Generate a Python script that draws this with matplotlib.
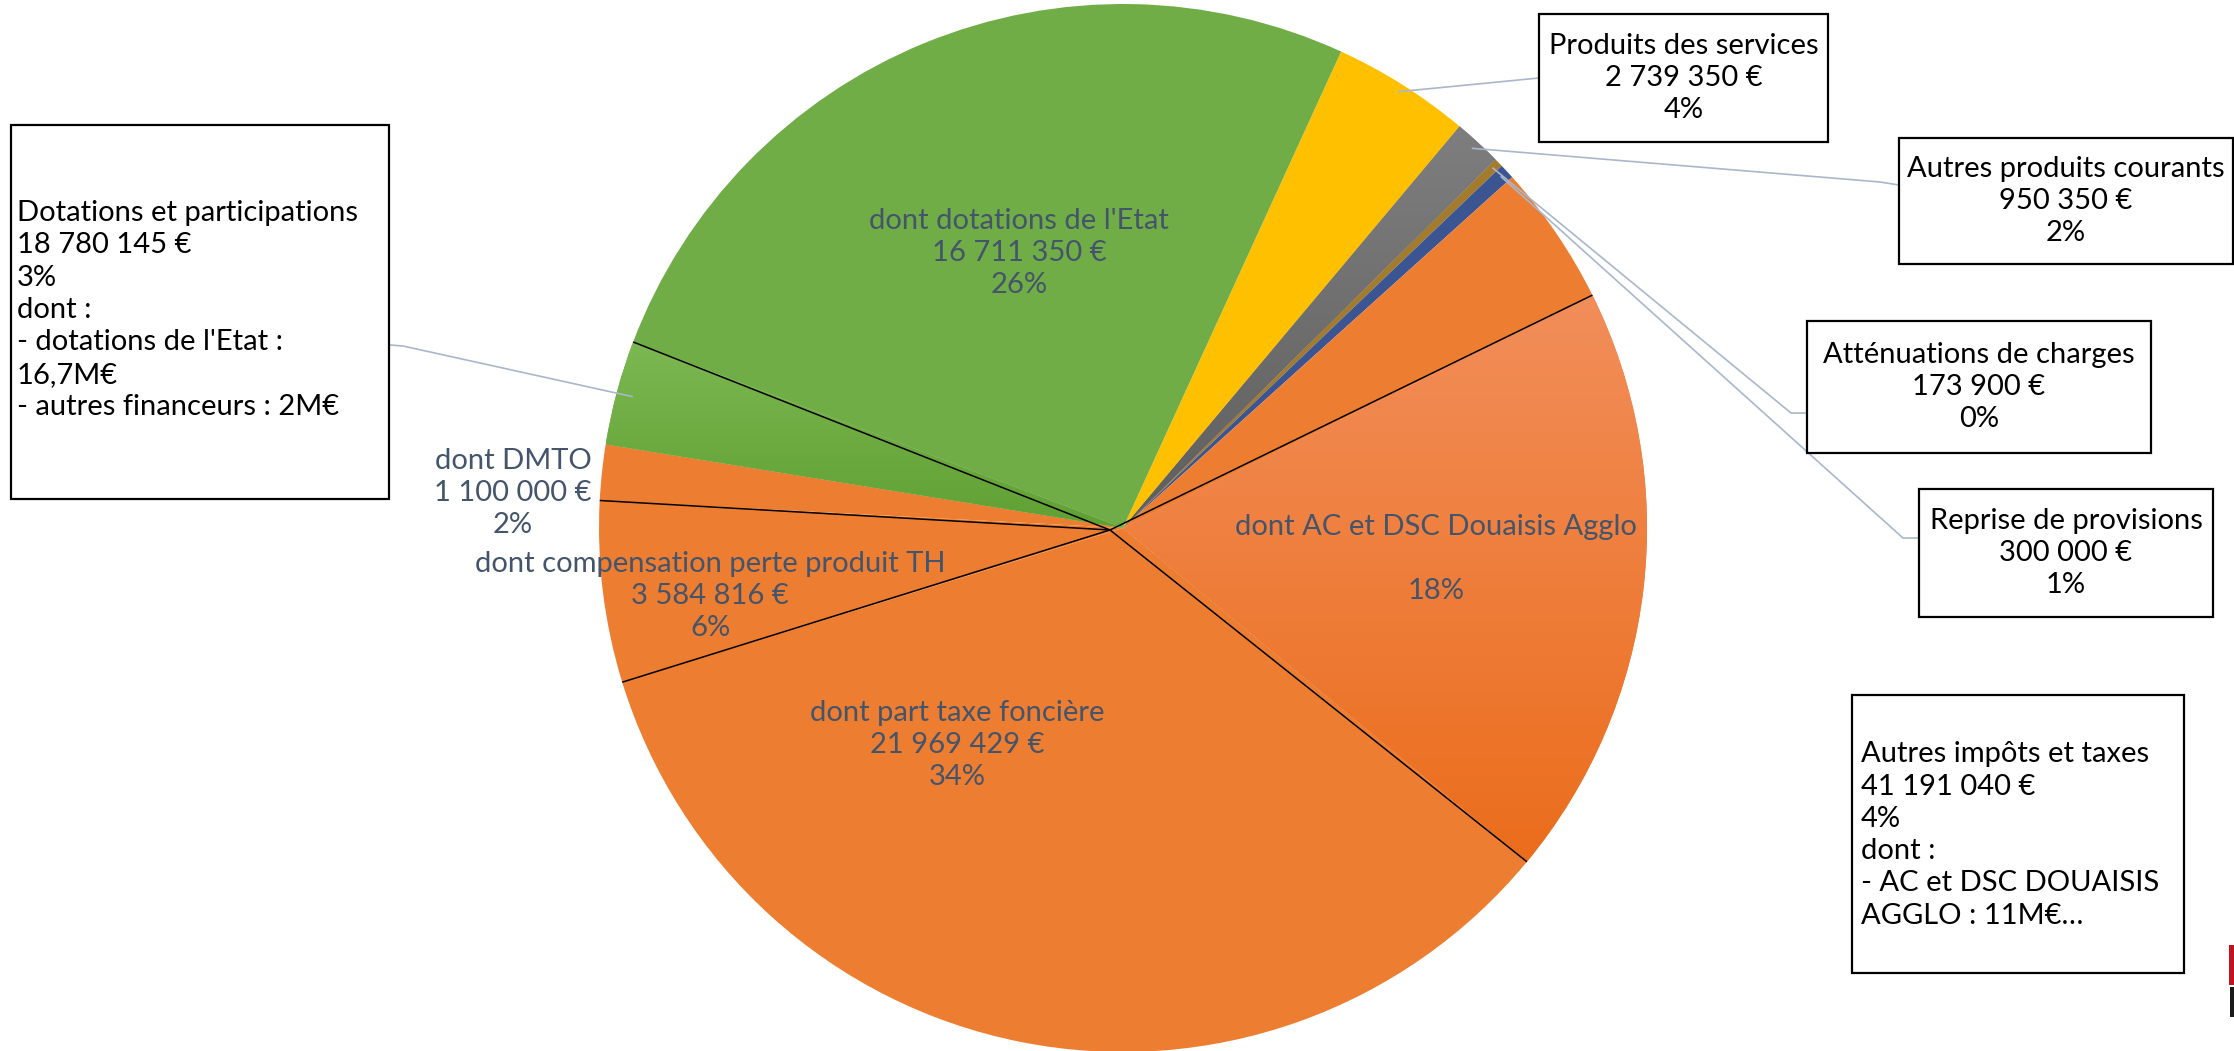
import numpy as np
import matplotlib.pyplot as plt
from matplotlib.patches import Rectangle
from matplotlib.colors import LinearSegmentedColormap

plt.rcParams['font.family'] = ['Lato', 'DejaVu Sans']

W, H = 2234, 1051

# ── data (clockwise from the yellow slice) ──────────────────────
slice_names = ["Produits des services", "Autres produits courants",
               "Atténuations de charges", "Reprise de provisions",
               "Autres impôts et taxes (reste)", "dont AC et DSC Douaisis Agglo",
               "dont part taxe foncière", "dont compensation perte produit TH",
               "dont DMTO", "Dotations - autres financeurs",
               "dont dotations de l'Etat"]
slice_values = [2739350, 950350, 173900, 300000, 2786795, 11750000,
                21969429, 3584816, 1100000, 2068795, 16711350]
slice_colors = ["#FFC000", "#6E6E6E", "#A47B2C", "#3A5592", "#ED7D31",
                "#F07D38", "#ED7D31", "#ED7D31", "#ED7D31", "#6BAF43",
                "#70AD47"]

inner_labels = {
    "dont dotations de l'Etat": "dont dotations de l'Etat\n16 711 350 €\n26%",
    "dont DMTO": "dont DMTO\n1 100 000 €\n2%",
    "dont compensation perte produit TH": "dont compensation perte produit TH\n3 584 816 €\n6%",
    "dont part taxe foncière": "dont part taxe foncière\n21 969 429 €\n34%",
    "dont AC et DSC Douaisis Agglo": "dont AC et DSC Douaisis Agglo\n\n18%",
}
box_labels = {
    "Produits des services": "Produits des services\n2 739 350 €\n4%",
    "Autres produits courants": "Autres produits courants\n950 350 €\n2%",
    "Atténuations de charges": "Atténuations de charges\n173 900 €\n0%",
    "Reprise de provisions": "Reprise de provisions\n300 000 €\n1%",
}
left_box_text = ("Dotations et participations\n18 780 145 €\n3%\ndont :\n"
                 "- dotations de l'Etat :\n16,7M€\n- autres financeurs : 2M€")
right_box_text = ("Autres impôts et taxes\n41 191 040 €\n4%\ndont :\n"
                  "- AC et DSC DOUAISIS\nAGGLO : 11M€…")

# slices followed by a hand-drawn black separator
separators_after = ["Autres impôts et taxes (reste)", "dont AC et DSC Douaisis Agglo",
                    "dont part taxe foncière", "dont compensation perte produit TH",
                    "Dotations - autres financeurs"]

# ── figure ──────────────────────────────────────────────────────
def Y(y):
    return H - y

FS, LS = 21, 1.30

fig = plt.figure(figsize=(W / 100, H / 100), dpi=100)
ax = fig.add_axes([0, 0, 1, 1])
cx, cy, r = 1123, Y(528), 524

wedges, _ = ax.pie(slice_values, colors=slice_colors, startangle=65.4,
                   counterclock=False, center=(cx, cy), radius=r,
                   wedgeprops=dict(linewidth=0))


def fill_gradient(wedge, top, bottom):
    cmap = LinearSegmentedColormap.from_list("g", [bottom, top])
    ext = wedge.get_path().get_extents()
    grad = np.linspace(0, 1, 256).reshape(-1, 1)
    im = ax.imshow(grad, cmap=cmap, origin="lower", aspect="auto",
                   extent=(ext.x0, ext.x1, ext.y0, ext.y1), zorder=1.5)
    im.set_clip_path(wedge)


fill_gradient(wedges[slice_names.index("dont AC et DSC Douaisis Agglo")], "#F28E5A", "#EB6D1C")
fill_gradient(wedges[slice_names.index("Dotations - autres financeurs")], "#7DB852", "#5FA033")
fill_gradient(wedges[slice_names.index("Autres produits courants")], "#7E7E7E", "#5E5E5E")


def rim(w, frac=1.0):
    a = np.deg2rad((w.theta1 + w.theta2) / 2)
    return cx + frac * r * np.cos(a), cy + frac * r * np.sin(a)


# black separators
ox, oy = 1110, Y(530)
for name in separators_after:
    w = wedges[slice_names.index(name)]
    a = np.deg2rad(w.theta1)
    ax.plot([ox, cx + r * np.cos(a)], [oy, cy + r * np.sin(a)],
            color="black", lw=1.1, zorder=3, solid_capstyle="butt")

# inner labels
inner_pos = {
    "dont dotations de l'Etat": (1019, 253),
    "dont DMTO": (513, 493),
    "dont compensation perte produit TH": (710, 596),
    "dont part taxe foncière": (957, 745),
    "dont AC et DSC Douaisis Agglo": (1436, 559),
}
for name, (x, y) in inner_pos.items():
    ax.text(x, Y(y), inner_labels[name], ha="center", va="center",
            fontsize=FS, color="#44546A", linespacing=LS, zorder=4)

# boxed labels on the right with leader lines
lead = "#A9B7CA"
boxes = {
    "Produits des services": ((1539, 14, 1828, 142), [(1539, 78)]),
    "Autres produits courants": ((1899, 138, 2233, 264), [(1880, 182), (1899, 185)]),
    "Atténuations de charges": ((1807, 321, 2151, 453), [(1791, 413), (1807, 413)]),
    "Reprise de provisions": ((1919, 489, 2213, 617), [(1903, 538), (1919, 538)]),
}
for name, ((x0, y0, x1, y1), path) in boxes.items():
    ax.add_patch(Rectangle((x0, Y(y1)), x1 - x0, y1 - y0, fill=False,
                           edgecolor="black", lw=1.6, zorder=4))
    ax.text((x0 + x1) / 2, Y((y0 + y1) / 2), box_labels[name], ha="center",
            va="center", fontsize=FS, color="black", linespacing=LS, zorder=5)
    sx, sy = rim(wedges[slice_names.index(name)], 0.985)
    xs = [sx] + [p[0] for p in path]
    ys = [sy] + [Y(p[1]) for p in path]
    ax.plot(xs, ys, color=lead, lw=1.2, zorder=3)

# left box (Dotations et participations)
ax.add_patch(Rectangle((11, Y(499)), 378, 374, fill=False, edgecolor="black",
                       lw=1.6, zorder=4))
ax.text(17, Y(310), left_box_text, ha="left", va="center", fontsize=FS,
        color="black", linespacing=LS, zorder=5)
sx, sy = rim(wedges[slice_names.index("Dotations - autres financeurs")], 0.97)
ax.plot([sx, 403, 390], [sy, Y(346), Y(345)], color=lead, lw=1.2, zorder=3)

# right box (Autres impôts et taxes)
ax.add_patch(Rectangle((1852, Y(973)), 332, 278, fill=False, edgecolor="black",
                       lw=1.6, zorder=4))
ax.text(1861, Y(835), right_box_text, ha="left", va="center", fontsize=FS,
        color="black", linespacing=LS, zorder=5)

# logo fragment cut off at the right edge
ax.add_patch(Rectangle((2229, Y(985)), 6, 40, color="#C0141C", lw=0, zorder=4))
ax.add_patch(Rectangle((2230, Y(1017)), 5, 30, color="#1A1A1A", lw=0, zorder=4))

ax.set_xlim(0, W)
ax.set_ylim(0, H)
ax.set_aspect("equal")
ax.axis("off")

fig.savefig("out.png", dpi=100)
